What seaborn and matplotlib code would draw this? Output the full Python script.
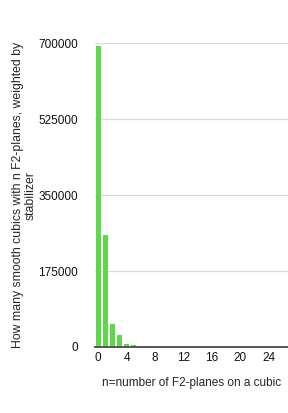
import numpy as np
import pandas as pd
import matplotlib
matplotlib.use('Agg')
import matplotlib.pyplot as plt
import seaborn as sns

# number of F2-planes on a cubic and weighted counts
n_planes = list(range(27))
counts = [694500, 257000, 53000, 27000, 6200, 4600, 1500, 400] + [0] * 19
y_ticks = [0, 175000, 350000, 525000, 700000]
x_ticks = [0, 4, 8, 12, 16, 20, 24]

df = pd.DataFrame({'n': n_planes, 'count': counts})

sns.set_style('white')
plt.rcParams['font.family'] = ['Liberation Sans', 'DejaVu Sans']
plt.rcParams['font.size'] = 8.5

fig = plt.figure(figsize=(2.88, 4.13), dpi=100)
ax = fig.add_axes([0.329, 0.160, 0.671, 0.735])
sns.barplot(data=df, x='n', y='count', color='#5ed84a', saturation=1,
            width=0.66, linewidth=0, edgecolor='none', ax=ax, zorder=3)

ax.set_ylim(0, 700000)
ax.set_xlim(-0.5, 26.7)
ax.set_yticks(y_ticks)
ax.set_yticklabels([str(v) for v in y_ticks])
ax.set_xticks(x_ticks)
ax.set_xticklabels([str(v) for v in x_ticks])
ax.yaxis.grid(True, color='#d9d9d9', linewidth=0.9, zorder=0)
ax.tick_params(axis='both', length=0, labelsize=8.5, colors='#111111')
ax.tick_params(axis='y', pad=12)
ax.tick_params(axis='x', pad=4)
for s in ['left', 'right', 'top']:
    ax.spines[s].set_visible(False)
ax.spines['bottom'].set_color('#555555')
ax.spines['bottom'].set_linewidth(1.4)
ax.spines['bottom'].set_zorder(4)

ax.set_xlabel('n=number of F2-planes on a cubic', fontsize=8.5, labelpad=9)
ax.set_ylabel('How many smooth cubics with n F2-planes, weighted by\nstabilizer',
              fontsize=8.8, labelpad=1, linespacing=1.1, multialignment='center')

fig.savefig('out.png', dpi=100)
